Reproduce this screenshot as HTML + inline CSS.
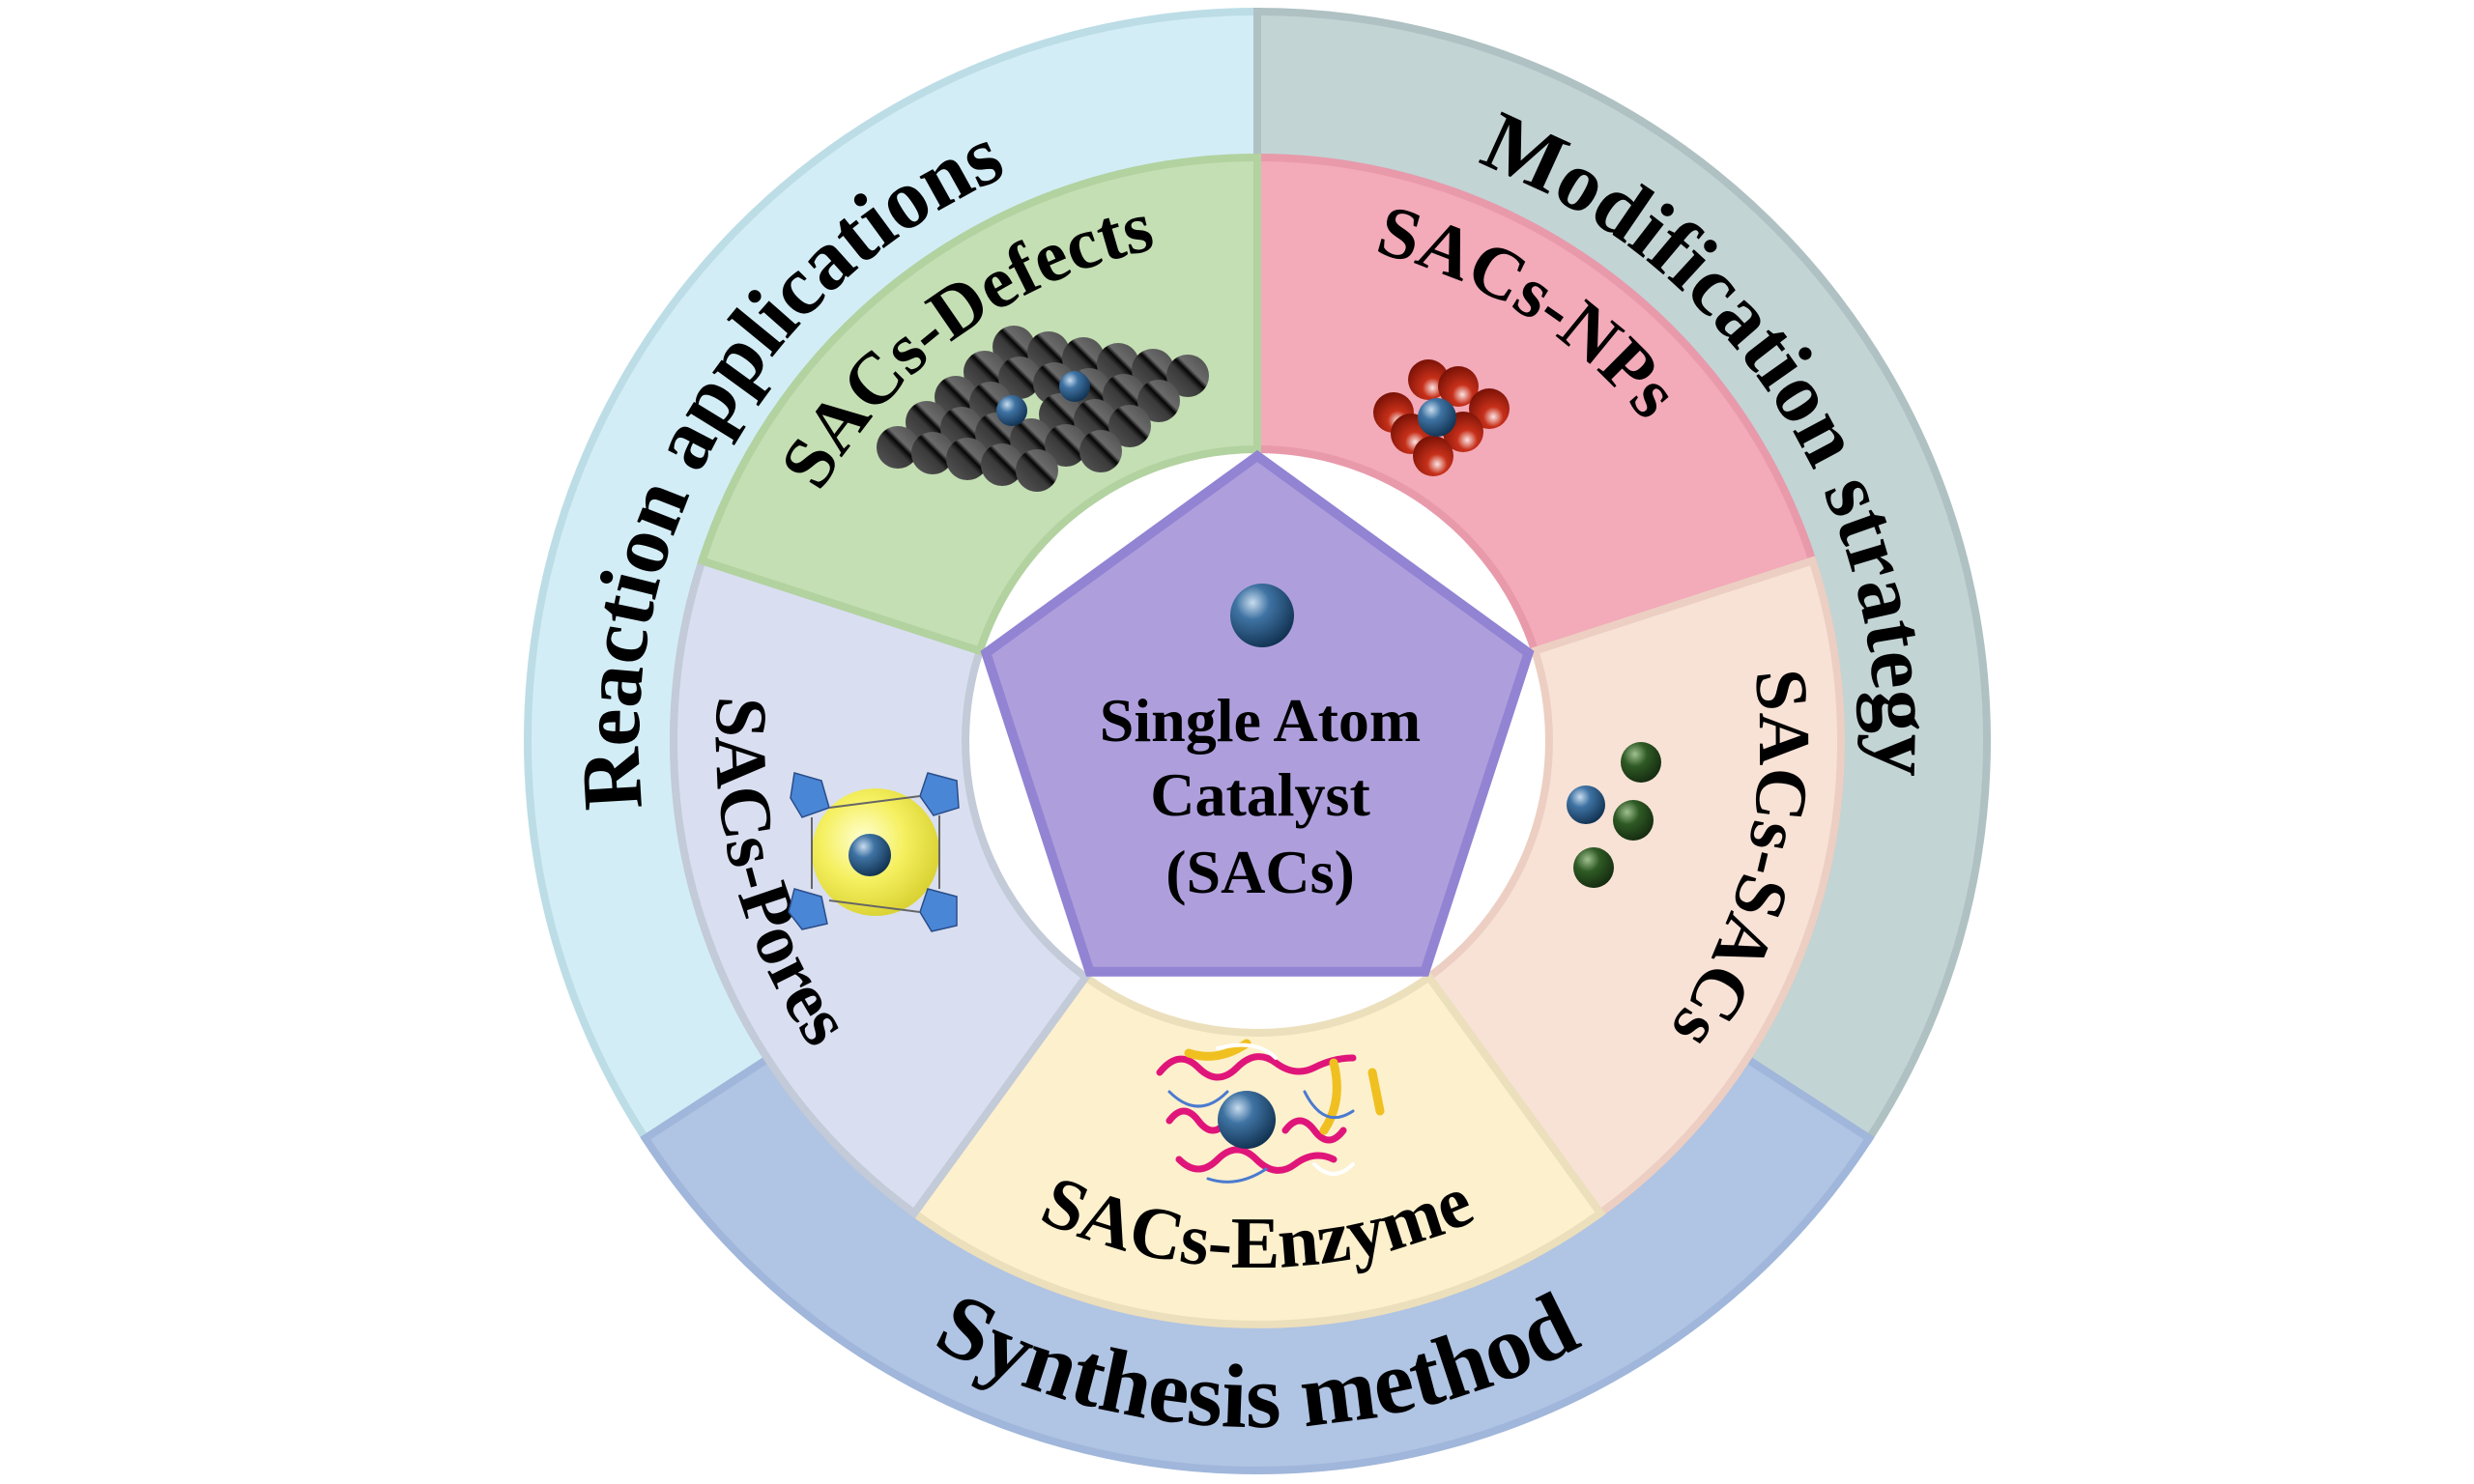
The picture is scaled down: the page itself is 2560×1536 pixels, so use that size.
<!DOCTYPE html>
<html><head><meta charset="utf-8"><style>
html,body{margin:0;padding:0;background:#fff;}
svg{display:block;}
text{font-family:"Liberation Serif",serif;font-weight:bold;fill:#000;}
</style></head><body>
<svg width="2560" height="1536" viewBox="0 0 2560 1536" xmlns="http://www.w3.org/2000/svg">
<defs>
<radialGradient id="blue" cx="35%" cy="30%" r="75%"><stop offset="0" stop-color="#c8dcee"/><stop offset="0.35" stop-color="#3f73a3"/><stop offset="1" stop-color="#10304f"/></radialGradient>
<linearGradient id="blk" x1="0" y1="1" x2="1" y2="0"><stop offset="0" stop-color="#5a5a5a"/><stop offset="0.45" stop-color="#3a3a3a"/><stop offset="0.55" stop-color="#050505"/><stop offset="0.62" stop-color="#6a6a6a"/><stop offset="1" stop-color="#4a4a4a"/></linearGradient>
<radialGradient id="red" cx="60%" cy="70%" r="70%"><stop offset="0" stop-color="#fbe4e4"/><stop offset="0.35" stop-color="#c7301a"/><stop offset="1" stop-color="#7a1206"/></radialGradient>
<radialGradient id="grn" cx="35%" cy="30%" r="75%"><stop offset="0" stop-color="#9fc08f"/><stop offset="0.4" stop-color="#2f5a25"/><stop offset="1" stop-color="#142a0f"/></radialGradient>
<radialGradient id="yel" cx="40%" cy="40%" r="65%"><stop offset="0" stop-color="#ffffd0"/><stop offset="0.5" stop-color="#f5f060"/><stop offset="1" stop-color="#d8d030"/></radialGradient>
<path id="pReac" d="M670.7,878.1 A640 640 0 0 1 1082.1,165.6"/>
<path id="pMod" d="M1488.1,155 A640 640 0 0 1 1936.2,845"/>
<path id="pSyn" d="M686.1,1122 A710 710 0 0 0 1915.9,1122"/>
<path id="pDef" d="M796.4,641.2 A520 520 0 0 1 1337.3,248.2"/>
<path id="pNP" d="M1228.6,252 A520 520 0 0 1 1795.6,606.3"/>
<path id="pSAC" d="M1766.3,535 A520 520 0 0 1 1610.3,1185"/>
<path id="pEnz" d="M950.7,1184.5 A545 545 0 0 0 1651.3,1184.5"/>
<path id="pPor" d="M793.5,530.3 A560 560 0 0 0 979.8,1225.8"/>
</defs>
<!-- outer ring -->
<path d="M1301,12 A755 755 0 0 0 667.8,1178.2 L794.4,1095.9 A604 604 0 0 1 1301,163 Z" fill="#d3edf6" stroke="#bcdde6" stroke-width="8"/>
<path d="M1301,12 A755 755 0 0 1 1934.2,1178.2 L1807.6,1095.9 A604 604 0 0 0 1301,163 Z" fill="#c3d4d5" stroke="#afc1c2" stroke-width="8"/>
<path d="M667.8,1178.2 A755 755 0 0 0 1934.2,1178.2 L1807.6,1095.9 A604 604 0 0 1 794.4,1095.9 Z" fill="#b0c4e4" stroke="#a0b6da" stroke-width="8"/>
<!-- middle ring -->
<path d="M1301,163 A604 604 0 0 1 1875.5,580.4 L1588.2,673.7 A302 302 0 0 0 1301,465 Z" fill="#f3aab9" stroke="#e89aab" stroke-width="8"/>
<path d="M1875.5,580.4 A604 604 0 0 1 1656,1255.6 L1478.5,1011.3 A302 302 0 0 0 1588.2,673.7 Z" fill="#f8e2d6" stroke="#eccfc2" stroke-width="8"/>
<path d="M1656,1255.6 A604 604 0 0 1 946,1255.6 L1123.5,1011.3 A302 302 0 0 0 1478.5,1011.3 Z" fill="#fdf0cd" stroke="#ecdfbc" stroke-width="8"/>
<path d="M946,1255.6 A604 604 0 0 1 726.5,580.4 L1013.8,673.7 A302 302 0 0 0 1123.5,1011.3 Z" fill="#d9dff0" stroke="#c3cad8" stroke-width="8"/>
<path d="M726.5,580.4 A604 604 0 0 1 1301,163 L1301,465 A302 302 0 0 0 1013.8,673.7 Z" fill="#c5dfb4" stroke="#b2d2a0" stroke-width="8"/>
<!-- pentagon -->
<polygon points="1301,472 1581.6,675.8 1474.4,1005.7 1127.6,1005.7 1020.4,675.8" fill="#ae9fdc" stroke="#9383d3" stroke-width="10"/>
<circle cx="1306" cy="637" r="33" fill="url(#blue)"/>
<text x="1304" y="767" font-size="64" text-anchor="middle">Single Atom</text>
<text x="1304" y="844" font-size="64" text-anchor="middle">Catalyst</text>
<text x="1304" y="924" font-size="64" text-anchor="middle">(SACs)</text>
<!-- ring texts -->
<text font-size="88"><textPath href="#pReac" startOffset="50%" text-anchor="middle">Reaction  applications</textPath></text>
<text font-size="88"><textPath href="#pMod" startOffset="50%" text-anchor="middle">Modification strategy</textPath></text>
<text font-size="94"><textPath href="#pSyn" startOffset="50%" text-anchor="middle">Synthesis method</textPath></text>
<text font-size="76"><textPath href="#pDef" startOffset="50%" text-anchor="middle">SACs-Defects</textPath></text>
<text font-size="76"><textPath href="#pNP" startOffset="50%" text-anchor="middle">SACs-NPs</textPath></text>
<text font-size="76"><textPath href="#pSAC" startOffset="50%" text-anchor="middle">SACs-SACs</textPath></text>
<text font-size="76"><textPath href="#pEnz" startOffset="50%" text-anchor="middle">SACs-Enzyme</textPath></text>
<text font-size="76"><textPath href="#pPor" startOffset="50%" text-anchor="middle">SACs-Pores</textPath></text>
<!-- defects lattice -->
<g fill="url(#blk)">
<circle cx="1049" cy="359" r="22"/><circle cx="1085" cy="365" r="22"/><circle cx="1121" cy="371" r="22"/><circle cx="1157" cy="377" r="22"/><circle cx="1193" cy="383" r="22"/><circle cx="1229" cy="389" r="22"/>
<circle cx="1019" cy="385" r="22"/><circle cx="1055" cy="391" r="22"/><circle cx="1091" cy="397" r="22"/><circle cx="1127" cy="403" r="22"/><circle cx="1163" cy="409" r="22"/><circle cx="1199" cy="415" r="22"/>
<circle cx="989" cy="411" r="22"/><circle cx="1025" cy="417" r="22"/><circle cx="1097" cy="429" r="22"/><circle cx="1133" cy="435" r="22"/><circle cx="1169" cy="441" r="22"/>
<circle cx="959" cy="437" r="22"/><circle cx="995" cy="443" r="22"/><circle cx="1031" cy="449" r="22"/><circle cx="1067" cy="455" r="22"/><circle cx="1103" cy="461" r="22"/><circle cx="1139" cy="467" r="22"/>
<circle cx="929" cy="463" r="22"/><circle cx="965" cy="469" r="22"/><circle cx="1001" cy="475" r="22"/><circle cx="1037" cy="481" r="22"/><circle cx="1073" cy="487" r="22"/>
</g>
<circle cx="1047" cy="425" r="16" fill="url(#blue)"/>
<circle cx="1112" cy="400" r="16" fill="url(#blue)"/>
<!-- NPs -->
<g fill="url(#red)">
<circle cx="1478" cy="393" r="21"/><circle cx="1509" cy="400" r="21"/><circle cx="1442" cy="427" r="21"/><circle cx="1541" cy="423" r="21"/><circle cx="1460" cy="449" r="21"/><circle cx="1514" cy="447" r="21"/><circle cx="1483" cy="472" r="21"/>
</g>
<circle cx="1487" cy="432" r="20" fill="url(#blue)"/>
<!-- SACs-SACs -->
<circle cx="1698" cy="789" r="21" fill="url(#grn)"/>
<circle cx="1690" cy="849" r="21" fill="url(#grn)"/>
<circle cx="1649" cy="898" r="21" fill="url(#grn)"/>
<circle cx="1641" cy="833" r="20" fill="url(#blue)"/>
<!-- Pores -->
<circle cx="906" cy="882" r="66" fill="url(#yel)"/>
<g fill="#4a86d6" stroke="#2a4d8a" stroke-width="1.5">
<polygon points="822,800 850,808 858,836 830,846 818,826"/><polygon points="960,800 990,808 992,836 966,844 952,824"/>
<polygon points="822,920 850,928 856,956 830,962 816,944"/><polygon points="960,920 990,928 990,958 964,964 952,944"/>
</g>
<g fill="none" stroke="#666" stroke-width="2"><path d="M858,836 L952,824 M858,932 L952,944 M840,846 L840,920 M972,844 L972,920"/></g>
<circle cx="900" cy="885" r="22" fill="url(#blue)"/>
<!-- Enzyme -->
<g fill="none" stroke-width="7" stroke-linecap="round">
<path d="M1200,1110 q20,-25 40,-5 t40,0 t40,-5 t40,5 t40,-10" stroke="#e0157a"/>
<path d="M1210,1160 q15,-20 30,0 t30,0 M1330,1170 q15,-20 30,0 t30,0" stroke="#e0157a"/>
<path d="M1220,1200 q20,20 40,0 t40,0 t40,5 t40,-5" stroke="#e0157a"/>
<path d="M1230,1090 q30,10 60,-10 M1380,1100 q10,40 -10,70 M1420,1110 l8,40" stroke="#f0c020" stroke-width="9"/>
<path d="M1210,1130 q30,30 60,0 M1350,1130 q20,40 50,20 M1250,1220 q30,10 60,-10" stroke="#4a7ad0" stroke-width="3"/>
<path d="M1260,1085 q40,-10 60,10 M1360,1205 q20,20 40,0" stroke="#ffffff" stroke-width="4"/>
</g>
<circle cx="1290" cy="1159" r="30" fill="url(#blue)"/>
</svg>
</body></html>
